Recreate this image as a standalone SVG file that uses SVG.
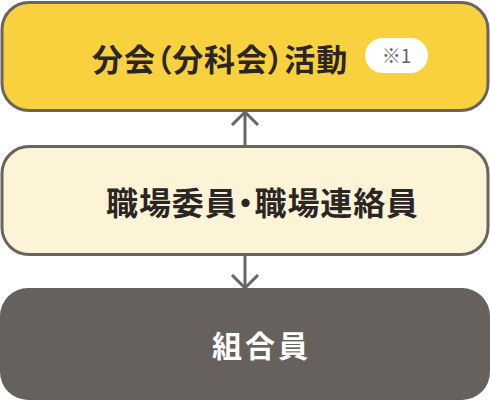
<svg xmlns="http://www.w3.org/2000/svg" width="490" height="401" viewBox="0 0 490 401">
<style>
.box{stroke:#6a6461;stroke-width:3}
.t{font-family:"Noto Sans CJK JP","Noto Sans",sans-serif;font-weight:700;font-feature-settings:"palt"}
.conn{stroke:#6a6461;stroke-width:3;fill:none}
</style>
<rect width="490" height="401" fill="#ffffff"/>
<g id="connectors">
<line class="conn" x1="245" y1="112" x2="245" y2="146"/>
<polyline class="conn" points="232,125 245,112 258,125"/>
<line class="conn" x1="245" y1="255" x2="245" y2="288"/>
<polyline class="conn" points="232,275 245,288 258,275"/>
</g>
<g id="node-bunkai">
<rect class="box" x="2" y="2.5" width="486" height="108" rx="27" fill="#f9d13f"/>
<text class="t" x="92" y="71" font-size="31" letter-spacing="0.9" fill="#2a2624">分会（分科会）活動</text>
<rect x="365" y="38" width="63" height="35" rx="17.5" fill="#ffffff"/>
<text x="396.5" y="63" font-size="19" text-anchor="middle" fill="#6a6461" font-family="'Noto Sans CJK JP','Noto Sans',sans-serif">※1</text>
</g>
<g id="node-shokuba">
<rect class="box" x="2" y="146.5" width="486" height="108" rx="27" fill="#fdf4d7"/>
<text class="t" x="106" y="215" font-size="32" letter-spacing="0.9" fill="#2a2624">職場委員・職場連絡員</text>
</g>
<g id="node-kumiaiin">
<rect x="0" y="288" width="490" height="112" rx="28" fill="#67615d"/>
<text class="t" x="212" y="357" font-size="30" letter-spacing="3" fill="#ffffff">組合員</text>
</g>
</svg>
